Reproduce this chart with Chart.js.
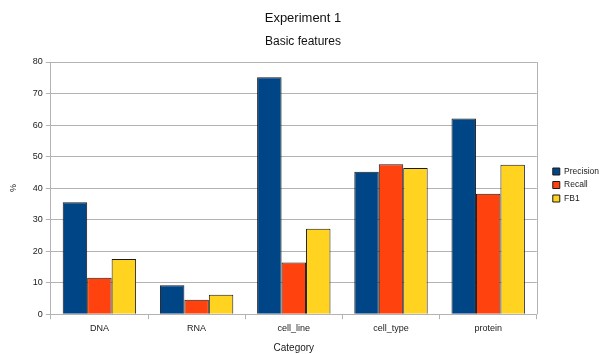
<!DOCTYPE html>
<html>
<head>
<meta charset="utf-8">
<script src="https://cdn.jsdelivr.net/npm/chart.js@4/dist/chart.umd.min.js"></script>
<style>
  html, body { margin: 0; padding: 0; background: #ffffff; }
  #wrap { width: 600px; height: 354px; }
</style>
</head>
<body>
<div id="wrap"><canvas id="chart" width="600" height="354"></canvas></div>
<script>
const categories = ["DNA", "RNA", "cell_line", "cell_type", "protein"];
const precision = [35.5, 9.2, 75.2, 45.2, 62.1];
const recall = [11.6, 4.6, 16.4, 47.6, 38.2];
const fb1 = [17.5, 6.2, 27.1, 46.4, 47.4];
const yTicks = [0, 10, 20, 30, 40, 50, 60, 70, 80];

const FONT = "'Liberation Sans', Arial, sans-serif";
const GRID = "#b3b3b3";
const TEXT = "#1a1a1a";

// outline on the right edge of the plot area
const frameRight = {
  id: "frameRight",
  afterDraw(chart) {
    const { ctx, chartArea } = chart;
    ctx.save();
    ctx.strokeStyle = GRID;
    ctx.lineWidth = 1;
    ctx.beginPath();
    const x = Math.round(chartArea.right) + 0.5;
    ctx.moveTo(x, chartArea.top);
    ctx.lineTo(x, chartArea.bottom);
    ctx.stroke();
    ctx.restore();
  }
};

// leave a wider gap between the plot area and the legend
const legendGap = {
  id: "legendGap",
  afterLayout(chart, args, opts) {
    const lg = chart.legend;
    if (!lg) return;
    lg.left += opts.dx;
    lg.right += opts.dx;
    lg.top += opts.dy;
    lg.bottom += opts.dy;
  }
};

new Chart(document.getElementById("chart"), {
  type: "bar",
  data: {
    labels: categories,
    datasets: [
      { label: "Precision", data: precision, backgroundColor: "#004586", borderColor: "#1a1a1a", borderWidth: 1 },
      { label: "Recall", data: recall, backgroundColor: "#ff420e", borderColor: "#1a1a1a", borderWidth: 1 },
      { label: "FB1", data: fb1, backgroundColor: "#ffd320", borderColor: "#1a1a1a", borderWidth: 1 }
    ]
  },
  options: {
    responsive: false,
    animation: false,
    devicePixelRatio: 1,
    layout: { padding: { left: 8, right: 2, top: 0, bottom: 0 } },
    datasets: { bar: { barPercentage: 1.0, categoryPercentage: 0.755 } },
    plugins: {
      legendGap: { dx: 11, dy: 8 },
      title: {
        display: true,
        text: "Experiment 1",
        color: "#111",
        font: { family: FONT, size: 13, weight: "normal" },
        padding: { top: 11, bottom: 4 }
      },
      subtitle: {
        display: true,
        text: "Basic features",
        color: "#111",
        font: { family: FONT, size: 12, weight: "normal" },
        padding: { top: 4, bottom: 13 }
      },
      legend: {
        position: "right",
        labels: {
          boxWidth: 7,
          boxHeight: 7,
          padding: 5,
          color: TEXT,
          font: { family: FONT, size: 8.5 }
        }
      },
      tooltip: { enabled: false }
    },
    scales: {
      x: {
        grid: { display: true, drawOnChartArea: false, drawTicks: true, tickLength: 5, color: GRID },
        border: { color: GRID },
        ticks: { color: TEXT, font: { family: FONT, size: 9 }, padding: 4, maxRotation: 0 },
        title: { display: true, text: "Category", color: TEXT, font: { family: FONT, size: 10 }, padding: { top: 4, bottom: 0 } }
      },
      y: {
        min: 0,
        max: 80,
        afterBuildTicks(scale) { scale.ticks = yTicks.map(v => ({ value: v })); },
        grid: { color: GRID, tickLength: 5 },
        border: { color: GRID },
        ticks: { color: TEXT, font: { family: FONT, size: 9 }, padding: 3 },
        title: { display: true, text: "%", color: TEXT, font: { family: FONT, size: 9 }, padding: { top: 0, bottom: 11 } }
      }
    }
  },
  plugins: [frameRight, legendGap]
});
</script>
</body>
</html>
